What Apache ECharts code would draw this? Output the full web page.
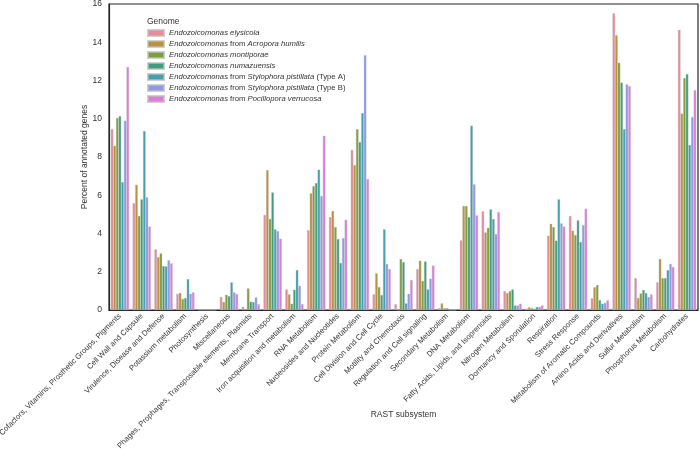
<!DOCTYPE html>
<html><head><meta charset="utf-8">
<script src="https://cdn.jsdelivr.net/npm/echarts@6/dist/echarts.min.js"></script>
<style>html,body{margin:0;padding:0;background:#fff}#c{width:700px;height:449px}</style>
</head><body><div id="c"></div>
<script>
const categories = ["Cofactors, Vitamins, Prosthetic Groups, Pigments","Cell Wall and Capsule","Virulence, Disease and Defense","Potassium metabolism","Photosynthesis","Miscellaneous","Phages, Prophages, Transposable elements, Plasmids","Membrane Transport","Iron acquisition and metabolism","RNA Metabolism","Nucleosides and Nucleotides","Protein Metabolism","Cell Division and Cell Cycle","Motility and Chemotaxis","Regulation and Cell signaling","Secondary Metabolism","DNA Metabolism","Fatty Acids, Lipids, and Isoprenoids","Nitrogen Metabolism","Dormancy and Sporulation","Respiration","Stress Response","Metabolism of Aromatic Compounds","Amino Acids and Derivatives","Sulfur Metabolism","Phosphorus Metabolism","Carbohydrates"];
const seriesNames = ["Endozoicomonas elysicola","Endozoicomonas from Acropora humilis","Endozoicomonas montiporae","Endozoicomonas numazuensis","Endozoicomonas from Stylophora pistillata (Type A)","Endozoicomonas from Stylophora pistillata (Type B)","Endozoicomonas from Pocillopora verrucosa"];
const legendLabels = ["{i|Endozoicomonas elysicola}","{i|Endozoicomonas} {n|from} {i|Acropora humilis}","{i|Endozoicomonas montiporae}","{i|Endozoicomonas numazuensis}","{i|Endozoicomonas} {n|from} {i|Stylophora pistillata} {n|(Type A)}","{i|Endozoicomonas} {n|from} {i|Stylophora pistillata} {n|(Type B)}","{i|Endozoicomonas} {n|from} {i|Pocillopora verrucosa}"];
const colors = ["#e78a99","#bb913b","#7f9f3a","#3c9f7d","#3fa0b0","#8e9be5","#df7cdb"];
const yTicks = [0,2,4,6,8,10,12,14,16];

const elysicola  = [9.46,5.58,3.17,0.84,0,0.68,0.17,4.97,1.08,4.18,4.86,8.37,0.82,0.31,2.14,0.10,3.64,5.16,0.99,0.07,3.89,4.92,0.61,15.51,1.67,1.45,14.66];
const acropora   = [8.59,6.55,2.77,0.89,0,0.42,0.05,7.32,0.82,6.10,5.18,7.58,1.92,0,2.58,0.35,5.44,4.06,0.89,0.14,4.51,4.15,1.19,14.36,0.63,2.67,10.27];
const montiporae = [10.04,4.92,2.96,0.58,0,0.80,1.13,4.76,0.33,6.48,4.34,9.46,1.20,2.67,1.52,0.10,5.44,4.30,0.99,0.10,4.34,3.92,1.31,12.93,0.87,1.67,12.13];
const numazuensis= [10.14,5.79,2.30,0.63,0,0.73,0.44,6.15,1.06,6.64,3.71,8.78,0.78,2.51,2.54,0.10,4.86,5.26,1.08,0.07,3.63,4.69,0.52,11.89,1.05,1.67,12.34];
const stylA      = [6.69,9.36,2.28,1.62,0,1.45,0.42,4.22,2.09,7.34,2.46,10.30,4.22,0.35,1.08,0,9.64,4.76,0.24,0.16,5.79,3.56,0.33,9.46,0.89,2.09,8.63];
const stylB      = [9.90,5.89,2.60,0.85,0,0.92,0.66,4.13,1.27,5.96,3.76,13.32,2.41,0.85,1.64,0,6.57,3.97,0.24,0.17,4.53,4.44,0.37,11.80,0.68,2.41,10.09];
const pocillopora= [12.71,4.36,2.44,0.92,0,0.84,0.30,3.73,0.31,9.11,4.72,6.85,2.14,1.57,2.33,0,4.95,5.12,0.33,0.24,4.36,5.30,0.51,11.71,0.82,2.25,11.50];
const seriesValues = [elysicola,acropora,montiporae,numazuensis,stylA,stylB,pocillopora];

const FONT = "Liberation Sans, Arial, sans-serif";
const TXT = "#333333";
const chart = echarts.init(document.getElementById('c'));
const legendMap = {};
seriesNames.forEach((n,i)=>legendMap[n]=legendLabels[i]);
chart.setOption({
  animation:false,
  color: colors,
  title:{text:"Genome",left:142,top:12,textStyle:{fontFamily:FONT,fontSize:8.5,fontWeight:'normal',color:TXT}},
  legend:{
    orient:'vertical',left:142,top:24,itemWidth:16,itemHeight:6,itemGap:3,icon:'rect',
    formatter:n=>legendMap[n],
    textStyle:{fontFamily:FONT,fontSize:7.7,color:TXT,
      rich:{i:{fontStyle:'italic',fontFamily:FONT,fontSize:7.7,color:TXT},n:{fontFamily:FONT,fontSize:7.7,color:TXT}}},
    data:seriesNames
  },
  grid:{left:109,right:2,top:4,bottom:139,show:true,borderColor:'#262626',borderWidth:1.2,containLabel:false,outerBoundsMode:'none'},
  xAxis:{type:'category',data:categories,
    axisLine:{show:true,lineStyle:{color:'#262626',width:1.2}},axisTick:{show:false},
    axisLabel:{interval:0,rotate:45,fontFamily:FONT,fontSize:7.7,color:TXT,margin:5},
    name:"RAST subsystem",nameLocation:'middle',nameGap:100,nameMoveOverlap:false,nameTextStyle:{fontFamily:FONT,fontSize:8.5,color:TXT}},
  yAxis:{type:'value',min:0,max:16,interval:2,
    axisLine:{show:true,lineStyle:{color:'#262626',width:1.2}},axisTick:{show:false},splitLine:{show:false},
    axisLabel:{fontFamily:FONT,fontSize:8.5,color:TXT,margin:7,customValues:yTicks},
    name:"Percent of annotated genes",nameLocation:'middle',nameGap:20,nameMoveOverlap:false,nameTextStyle:{fontFamily:FONT,fontSize:8.5,color:TXT}},
  series: seriesNames.map((n,i)=>({
    name:n,type:'bar',data:seriesValues[i],barGap:'0%',barCategoryGap:'16%',
    itemStyle:{borderColor:'rgba(190,190,190,0.7)',borderWidth:0.5}
  }))
});
</script></body></html>
